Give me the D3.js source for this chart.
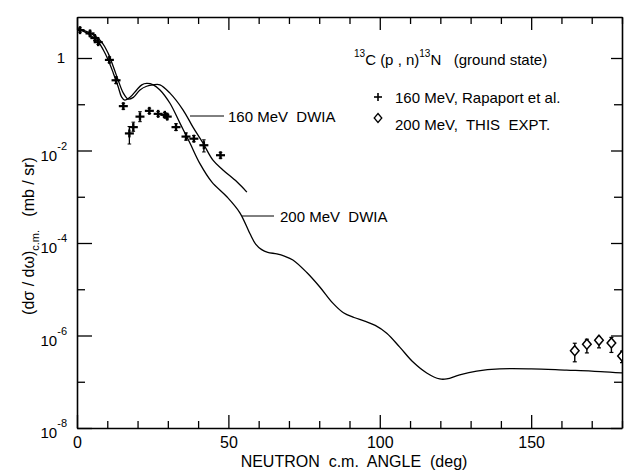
<!DOCTYPE html>
<html><head><meta charset="utf-8">
<script src="https://cdn.jsdelivr.net/npm/d3@7"></script>
<style>
body{margin:0;background:#fff;}
text{font-family:"Liberation Sans",Arial,Helvetica,sans-serif;fill:#000;white-space:pre;}
</style></head>
<body><svg id="c" width="630" height="473"></svg>
<script>
// ---- data ----
const xTicks = [0,10,20,30,40,50,60,70,80,90,100,110,120,130,140,150,160,170,180];
const xTickLabels = [0,50,100,150];
const yTicks = [1,1e-1,1e-2,1e-3,1e-4,1e-5,1e-6,1e-7,1e-8];
const yTickExps = [0,-2,-4,-6,-8];

// 200 MeV DWIA curve
const dwia200Angle = [0,2,4.3,7.0,8.7,10.3,12.0,13.6,14.7,15.8,17.5,19.7,21.4,23.0,25.2,27.4,30.7,34.0,37.3,40.6,44.5,49.5,53.8,57.1,59.0,61.0,63.0,66.0,68.5,71.3,75.9,80.2,84.5,88.0,91.5,95.0,98.5,102.3,106.6,110.9,115.5,119.8,122.1,126.4,132.0,139.6,150,161.7,170,180];
const dwia200Value = [4.3,3.8,3.15,2.25,1.49,0.91,0.47,0.24,0.145,0.123,0.141,0.204,0.263,0.282,0.263,0.204,0.105,0.039,0.0145,0.0052,0.0021,1.0e-3,4.5e-4,1.6e-4,9.5e-5,7.2e-5,6.3e-5,5.8e-5,5.2e-5,4.3e-5,2.3e-5,1.12e-5,5.0e-6,3.1e-6,2.45e-6,2.05e-6,1.65e-6,1.12e-6,5.6e-7,2.7e-7,1.55e-7,1.15e-7,1.15e-7,1.41e-7,1.7e-7,1.9e-7,1.9e-7,1.78e-7,1.7e-7,1.55e-7];

// 160 MeV DWIA curve
const dwia160Angle = [0,2,5.4,8.1,10.3,12.0,13.6,15.3,16.9,18.6,20.8,23.0,25.2,27.4,30.7,35.0,38.3,41.6,44.9,48.2,52.8,56.1];
const dwia160Value = [4.3,4.0,3.16,2.24,1.26,0.65,0.33,0.174,0.129,0.141,0.204,0.245,0.263,0.263,0.174,0.076,0.032,0.0145,0.0062,0.0038,0.0021,0.00126];

// 160 MeV data, Rapaport et al.
const exp160Angle = [1.0,4.3,5.9,7.0,10.7,12.9,15.3,17.3,18.6,20.8,23.9,26.8,29.0,29.8,32.7,36.0,38.6,41.9,47.4];
const exp160Value = [4.0,3.4,2.7,2.2,0.91,0.33,0.091,0.0234,0.032,0.054,0.072,0.062,0.059,0.054,0.032,0.020,0.018,0.013,0.0079];
const exp160Hi = [4.5,3.8,3.0,2.45,1.05,0.39,0.105,0.033,0.041,0.069,0.082,0.07,0.066,0.061,0.038,0.024,0.021,0.017,0.0091];
const exp160Lo = [3.6,3.0,2.4,1.95,0.79,0.28,0.078,0.0138,0.026,0.042,0.063,0.055,0.052,0.048,0.027,0.0167,0.0155,0.0093,0.0068];

// 200 MeV data, this experiment
const exp200Angle = [164.4,168.4,172.4,176.5,180.0];
const exp200Value = [4.7e-7,6.5e-7,7.9e-7,6.9e-7,3.6e-7];
const exp200Hi = [6.8e-7,8.3e-7,9.5e-7,9.1e-7,4.6e-7];
const exp200Lo = [2.7e-7,4.2e-7,5.4e-7,4.3e-7,2.6e-7];

// ---- layout ----
const L = 77, R = 622, T = 17, B = 428;
const svg = d3.select("#c");
const x = d3.scaleLinear().domain([0,180]).range([L,R]);
const y = d3.scaleLog().domain([1e-8,7.7]).range([B,T]);

svg.append("defs").append("clipPath").attr("id","clip")
  .append("rect").attr("x",L).attr("y",T).attr("width",R-L).attr("height",B-T);

const isMajX = d => d % 50 === 0;
const isMajY = d => Math.round(Math.log10(d)) % 2 === 0;

function styleAxis(g){
  g.select(".domain").attr("stroke","#000").attr("stroke-width",1.6);
  g.selectAll(".tick line").attr("stroke","#000").attr("stroke-width",1.3);
}

// bottom axis
const gB = svg.append("g").attr("transform",`translate(0,${B})`)
  .call(d3.axisBottom(x).tickValues(xTicks).tickSizeInner(-7).tickSizeOuter(0).tickPadding(9)
    .tickFormat(d => xTickLabels.includes(d) ? d : ""));
styleAxis(gB);
gB.selectAll(".tick").filter(isMajX).select("line").attr("y2",-13);
gB.selectAll(".tick text").attr("font-size",16).attr("font-family",null);

// top axis
const gT = svg.append("g").attr("transform",`translate(0,${T})`)
  .call(d3.axisTop(x).tickValues(xTicks).tickSizeInner(-7).tickSizeOuter(0).tickFormat(""));
styleAxis(gT);
gT.selectAll(".tick").filter(isMajX).select("line").attr("y2",13);

// left axis
const gL = svg.append("g").attr("transform",`translate(${L},0)`)
  .call(d3.axisLeft(y).tickValues(yTicks).tickSizeInner(-8).tickSizeOuter(0).tickFormat(""));
styleAxis(gL);
gL.selectAll(".tick").filter(isMajY).select("line").attr("x2",15);

// right axis
const gR = svg.append("g").attr("transform",`translate(${R},0)`)
  .call(d3.axisRight(y).tickValues(yTicks).tickSizeInner(-8).tickSizeOuter(0).tickFormat(""));
styleAxis(gR);
gR.selectAll(".tick").filter(isMajY).select("line").attr("x2",-11);

// y tick labels
yTickExps.forEach(e => {
  const yy = y(Math.pow(10,e));
  if (e === 0) {
    svg.append("text").attr("x",65).attr("y",yy+5).attr("text-anchor","end").attr("font-size",15).text("1");
  } else {
    const t = svg.append("text").attr("x",67).attr("y",yy+10).attr("text-anchor","end").attr("font-size",15);
    t.append("tspan").text("10");
    t.append("tspan").attr("font-size",11).attr("dy",-11).text("-" + (-e));
  }
});

// axis titles
svg.append("text").attr("x",354).attr("y",467).attr("text-anchor","middle").attr("font-size",16)
  .text("NEUTRON  c.m.  ANGLE  (deg)");
const yt = svg.append("text").attr("transform","translate(34,236) rotate(-90)")
  .attr("text-anchor","middle").attr("font-size",16);
yt.append("tspan").text("(dσ / dω)");
yt.append("tspan").attr("font-size",11).attr("dy",5).text("c.m.");
yt.append("tspan").attr("dy",-5).text("   (mb / sr)");

// curves
const plot = svg.append("g").attr("clip-path","url(#clip)");
const line = d3.line().x(d => x(d[0])).y(d => y(d[1])).curve(d3.curveCatmullRom.alpha(0.5));
plot.append("path").datum(d3.zip(dwia200Angle,dwia200Value)).attr("d",line)
  .attr("fill","none").attr("stroke","#000").attr("stroke-width",1.3);
plot.append("path").datum(d3.zip(dwia160Angle,dwia160Value)).attr("d",line)
  .attr("fill","none").attr("stroke","#000").attr("stroke-width",1.3);

// 160 MeV data: crosses with error bars
exp160Angle.forEach((a,i) => {
  const cx = x(a), cy = y(exp160Value[i]);
  const g = plot.append("g").attr("stroke","#000");
  g.append("line").attr("x1",cx).attr("x2",cx).attr("y1",y(exp160Hi[i])).attr("y2",y(exp160Lo[i])).attr("stroke-width",1.3);
  g.append("line").attr("x1",cx-1.8).attr("x2",cx+1.8).attr("y1",y(exp160Hi[i])).attr("y2",y(exp160Hi[i])).attr("stroke-width",1);
  g.append("line").attr("x1",cx-1.8).attr("x2",cx+1.8).attr("y1",y(exp160Lo[i])).attr("y2",y(exp160Lo[i])).attr("stroke-width",1);
  g.append("line").attr("x1",cx-4.5).attr("x2",cx+4.5).attr("y1",cy).attr("y2",cy).attr("stroke-width",2.2);
  g.append("line").attr("x1",cx).attr("x2",cx).attr("y1",cy-4).attr("y2",cy+4).attr("stroke-width",2.4);
});

// 200 MeV data: diamonds with error bars
const diamond = (cx,cy,w,h) => `M${cx},${cy-h}L${cx+w},${cy}L${cx},${cy+h}L${cx-w},${cy}Z`;
exp200Angle.forEach((a,i) => {
  const cx = x(a), cy = y(exp200Value[i]);
  const g = plot.append("g").attr("stroke","#000");
  g.append("line").attr("x1",cx).attr("x2",cx).attr("y1",y(exp200Hi[i])).attr("y2",y(exp200Lo[i])).attr("stroke-width",1.4);
  g.append("line").attr("x1",cx-2).attr("x2",cx+2).attr("y1",y(exp200Hi[i])).attr("y2",y(exp200Hi[i])).attr("stroke-width",1.2);
  g.append("line").attr("x1",cx-2).attr("x2",cx+2).attr("y1",y(exp200Lo[i])).attr("y2",y(exp200Lo[i])).attr("stroke-width",1.2);
  g.append("path").attr("d",diamond(cx,cy,4.3,5)).attr("fill","#fff").attr("stroke-width",1.5);
});

// curve labels
svg.append("line").attr("x1",190).attr("x2",224).attr("y1",116).attr("y2",116).attr("stroke","#000").attr("stroke-width",1);
svg.append("text").attr("x",228).attr("y",122).attr("font-size",15).text("160 MeV  DWIA");
svg.append("line").attr("x1",242).attr("x2",274).attr("y1",216).attr("y2",216).attr("stroke","#000").attr("stroke-width",1);
svg.append("text").attr("x",280).attr("y",222).attr("font-size",15).text("200 MeV  DWIA");

// legend
const lt = svg.append("text").attr("x",354).attr("y",65).attr("font-size",15);
lt.append("tspan").attr("font-size",10).attr("dy",-8).text("13");
lt.append("tspan").attr("dy",8).text("C (p , n)");
lt.append("tspan").attr("font-size",10).attr("dy",-8).text("13");
lt.append("tspan").attr("dy",8).text("N   (ground state)");

svg.append("line").attr("x1",374).attr("x2",382).attr("y1",97).attr("y2",97).attr("stroke","#000").attr("stroke-width",1.6);
svg.append("line").attr("x1",378).attr("x2",378).attr("y1",93).attr("y2",101).attr("stroke","#000").attr("stroke-width",1.6);
svg.append("text").attr("x",395).attr("y",103).attr("font-size",15).text("160 MeV, Rapaport et al.");
svg.append("path").attr("d",diamond(378,118,3.8,4.5)).attr("fill","#fff").attr("stroke","#000").attr("stroke-width",1.3);
svg.append("text").attr("x",395).attr("y",130).attr("font-size",15).text("200 MeV,  THIS  EXPT.");
</script></body></html>
